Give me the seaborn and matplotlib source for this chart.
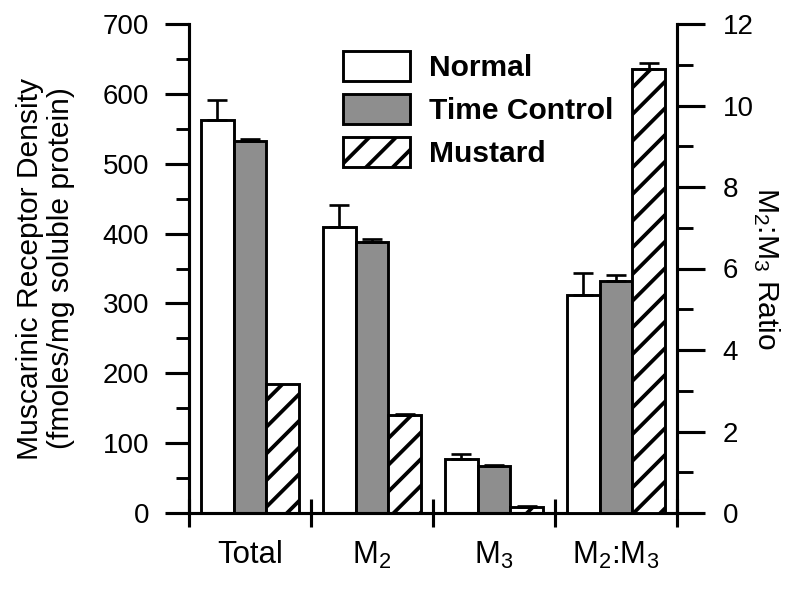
import numpy as np
import pandas as pd
import matplotlib
matplotlib.use("Agg")
import matplotlib.pyplot as plt
import seaborn as sns
from matplotlib.ticker import MultipleLocator

groups = ["Total", "M2", "M3", "M2:M3"]
group_labels = ["Total", r"$\mathregular{M_2}$", r"$\mathregular{M_3}$",
                r"$\mathregular{M_2}$:$\mathregular{M_3}$"]
conditions = ["Normal", "Time Control", "Mustard"]

# receptor density (fmoles/mg soluble protein), mean and upper error
density_total = [563, 532, 185]
density_total_err = [28, 3, 0]
density_m2 = [410, 388, 140]
density_m2_err = [31, 4, 2]
density_m3 = [77, 67, 8]
density_m3_err = [8, 2, 2]
# M2:M3 ratio
ratio = [5.35, 5.7, 10.9]
ratio_err = [0.55, 0.15, 0.15]

rows = []
for g, vals, errs in [("Total", density_total, density_total_err),
                      ("M2", density_m2, density_m2_err),
                      ("M3", density_m3, density_m3_err)]:
    for c, v, e in zip(conditions, vals, errs):
        rows.append({"group": g, "cond": c, "value": v, "err": e})
df_density = pd.DataFrame(rows)
df_ratio = pd.DataFrame({"group": "M2:M3", "cond": conditions, "value": ratio, "err": ratio_err})

sns.set_style("ticks")
plt.rcParams["font.family"] = ["Liberation Sans", "DejaVu Sans"]
plt.rcParams["hatch.linewidth"] = 1.7
for key in ["text.color", "axes.labelcolor", "xtick.color", "ytick.color", "axes.edgecolor"]:
    plt.rcParams[key] = "black"

fig = plt.figure(figsize=(5, 589 / 160), dpi=160)
ax = fig.add_axes([189 / 800, 76 / 589, 488 / 800, 489 / 589])
ax2 = ax.twinx()

styles = {
    "Normal": dict(facecolor="white", hatch=None),
    "Time Control": dict(facecolor="#8e8e8e", hatch=None),
    "Mustard": dict(facecolor="white", hatch="//"),
}

sns.barplot(data=df_density, x="group", y="value", hue="cond", order=groups,
            hue_order=conditions, ax=ax, legend=False, width=0.8, errorbar=None)
sns.barplot(data=df_ratio, x="group", y="value", hue="cond", order=groups,
            hue_order=conditions, ax=ax2, legend=False, width=0.8, errorbar=None)
bar_containers = list(ax.containers)
ratio_containers = list(ax2.containers)


def style_bars(axis, containers, data):
    for cont, cond in zip(containers, conditions):
        errs = data[data["cond"] == cond]["err"].tolist()
        for bar, e in zip(cont, errs):
            bar.set_facecolor(styles[cond]["facecolor"])
            bar.set_edgecolor("black")
            bar.set_linewidth(1.3)
            if styles[cond]["hatch"]:
                bar.set_hatch(styles[cond]["hatch"])
            if e > 0:
                axis.errorbar(bar.get_x() + bar.get_width() / 2, bar.get_height(),
                              yerr=[[0], [e]], color="black", capsize=4.5,
                              elinewidth=1.2, capthick=1.2, zorder=3)


style_bars(ax, bar_containers, df_density)
style_bars(ax2, ratio_containers, df_ratio)

ax.set_xlim(-0.5, 3.5)
ax.set_ylim(0, 700)
ax2.set_ylim(0, 12)

ax.yaxis.set_major_locator(MultipleLocator(100))
ax.yaxis.set_minor_locator(MultipleLocator(50))
ax2.yaxis.set_major_locator(MultipleLocator(2))
ax2.yaxis.set_minor_locator(MultipleLocator(1))

ax.set_xticks([-0.5, 0.5, 1.5, 2.5, 3.5])
ax.set_xticklabels([])
ax.set_xticks(range(len(groups)), minor=True)
ax.set_xticklabels(group_labels, minor=True, fontsize=14)
ax.tick_params(axis="x", which="major", direction="inout", length=12.5, width=1.4)
ax.tick_params(axis="x", which="minor", length=0, pad=12)

ax.tick_params(axis="y", which="major", length=11, width=1.4, labelsize=12.5, pad=7)
ax.tick_params(axis="y", which="minor", length=6, width=1.3)
ax2.tick_params(axis="y", which="major", length=12.5, width=1.4, labelsize=12.5, pad=8)
ax2.tick_params(axis="y", which="minor", length=7, width=1.3)

for s in ["top", "right"]:
    ax.spines[s].set_visible(False)
for s in ["top", "left", "bottom"]:
    ax2.spines[s].set_visible(False)
for s in ["left", "bottom"]:
    ax.spines[s].set_linewidth(1.4)
ax2.spines["right"].set_linewidth(1.4)

ax.set_xlabel("")
ax.set_ylabel("Muscarinic Receptor Density\n(fmoles/mg soluble protein)", fontsize=13.5,
              linespacing=1.15)
ax.yaxis.set_label_coords(-0.234, 0.5)
ax2.set_ylabel(r"$\mathregular{M_2}$:$\mathregular{M_3}$ Ratio", fontsize=13.5, rotation=270,
               va="center")
ax2.yaxis.set_label_coords(1.184, 0.5)

handles = [cont.patches[0] for cont in bar_containers]
ax2.legend(handles, conditions, loc="upper left", bbox_to_anchor=(343 / 800, 1 - 51 / 589),
           bbox_transform=fig.transFigure, frameon=False, borderpad=0, borderaxespad=0,
           handlelength=2.23, handleheight=1.15, handletextpad=0.65, labelspacing=0.4,
           prop={"weight": "bold", "size": 13.5})

fig.savefig("out.png", dpi=160)
